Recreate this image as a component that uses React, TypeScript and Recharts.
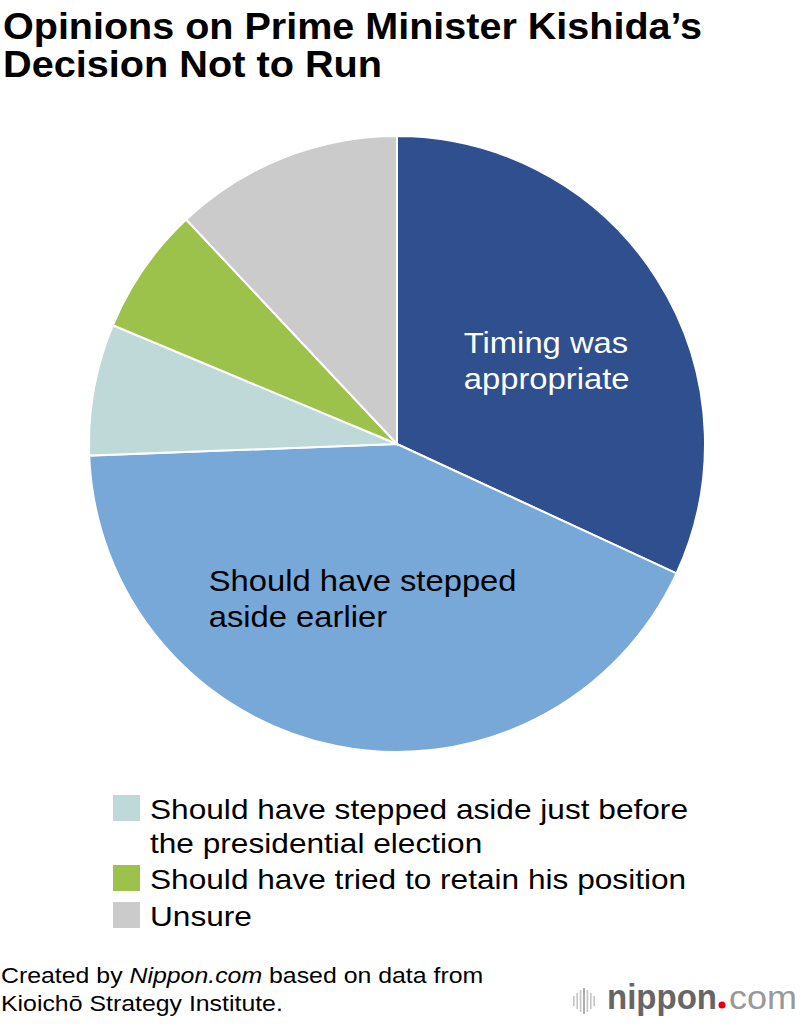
import React from "react";
import { Cell, Pie, PieChart } from "recharts";

// survey answers, clockwise from 12 o'clock
const answers = [
	"Timing was appropriate",
	"Should have stepped aside earlier",
	"Should have stepped aside just before the presidential election",
	"Should have tried to retain his position",
	"Unsure",
];
const shares = [31.9, 42.5, 6.9, 6.7, 12.0];

// text drawn inside the two big slices
const sliceLabels = [["Timing was", "appropriate"], ["Should have stepped", "aside earlier"]];

// legend rows for the small slices (answer index + wrapped lines)
const legendIndexes = [2, 3, 4];
const legendLines = [
	["Should have stepped aside just before", "the presidential election"],
	["Should have tried to retain his position"],
	["Unsure"],
];

const titleLines = ["Opinions on Prime Minister Kishida\u2019s", "Decision Not to Run"];
const sourceLines = ["based on data from", "Kioich\u014d Strategy Institute."];

const COLORS = ["#2f4f8e", "#77a8d8", "#bfd8d8", "#9cc24b", "#cbcbcb"];
const LABEL_COLORS = ["#ffffff", "#000000"];
const FONT = "'Liberation Sans', Arial, Helvetica, sans-serif";
// Liberation Sans runs narrower than the original Helvetica, widen it a bit
const WIDEN = 1.13;

const chartData = answers.map((name, i) => ({ name, value: shares[i] }));

const RAD = Math.PI / 180;

// label tweaks: distance from centre (share of radius) and shift of the text block
const labelLayout = [
	{ r: 0.55, dx: -76, dy: 0 },
	{ r: 0.55, dx: -155, dy: -19 },
];

function renderSliceLabel(props: any) {
	const { cx, cy, midAngle, outerRadius, index } = props;
	const lines = sliceLabels[index];
	if (!lines) return null;
	const lay = labelLayout[index];
	const x = cx + outerRadius * lay.r * Math.cos(-midAngle * RAD) + lay.dx;
	const y = cy + outerRadius * lay.r * Math.sin(-midAngle * RAD) + lay.dy;
	return (
		<g key={`lbl-${index}`} transform={`translate(${x},${y}) scale(${WIDEN},1)`}>
			<text fill={LABEL_COLORS[index]} fontFamily={FONT} fontSize={29} textAnchor="start">
				{lines.map((l, j) => (
					<tspan key={j} x={0} y={j * 36}>
						{l}
					</tspan>
				))}
			</text>
		</g>
	);
}

function Logo() {
	const bars = [10, 16, 22, 26, 22, 16, 10];
	return (
		<g>
			{bars.map((h, i) => (
				<rect
					key={i}
					x={573 + i * 3.4}
					y={1001 - h / 2}
					width={1.6}
					height={h}
					fill={i === 3 ? "#999" : "#c4c4c4"}
				/>
			))}
			<text x={607} y={1009} fontFamily={FONT} fontSize={35} fill="#666" fontWeight="bold" textLength={110} lengthAdjust="spacingAndGlyphs">
				nippon
			</text>
			<circle cx={722} cy={1005} r={3.5} fill="#e60012" />
			<text x={729} y={1009} fontFamily={FONT} fontSize={34} fill="#999" textLength={68} lengthAdjust="spacingAndGlyphs">
				com
			</text>
		</g>
	);
}

export default function App() {
	return (
		<div style={{ position: "absolute", left: 0, top: 0, width: 800, height: 1024, background: "#fff" }}>
			<PieChart width={800} height={1024} margin={{ top: 0, right: 0, bottom: 0, left: 0 }}>
				<Pie
					data={chartData}
					dataKey="value"
					nameKey="name"
					cx={397}
					cy={444}
					outerRadius={308}
					startAngle={90}
					endAngle={-270}
					stroke="#ffffff"
					strokeWidth={2}
					labelLine={false}
					label={renderSliceLabel}
					isAnimationActive={false}
				>
					{chartData.map((d, i) => (
						<Cell key={d.name} fill={COLORS[i]} />
					))}
				</Pie>
			</PieChart>
			<svg
				width={800}
				height={1024}
				style={{ position: "absolute", left: 0, top: 0, pointerEvents: "none" }}
			>
				<text x={3} y={39} fontFamily={FONT} fontWeight="bold" fontSize={37} fill="#000" textLength={699} lengthAdjust="spacingAndGlyphs">
					{titleLines[0]}
				</text>
				<text x={3} y={77} fontFamily={FONT} fontWeight="bold" fontSize={37} fill="#000" textLength={379} lengthAdjust="spacingAndGlyphs">
					{titleLines[1]}
				</text>

				{legendIndexes.map((idx, row) => {
					const top = [795, 865, 902][row];
					return (
						<g key={answers[idx]}>
							<rect x={113} y={top} width={27} height={26} fill={COLORS[idx]} />
							<g transform={`translate(150,${top + 24}) scale(${WIDEN},1)`}>
								<text fontFamily={FONT} fontSize={28} fill="#000">
									{legendLines[row].map((l, j) => (
										<tspan key={j} x={0} y={j * 34}>
											{l}
										</tspan>
									))}
								</text>
							</g>
						</g>
					);
				})}

				<g transform={`translate(1,0) scale(${WIDEN},1)`}>
					<text x={0} y={983} fontFamily={FONT} fontSize={22} fill="#000">
						Created by <tspan fontStyle="italic">Nippon.com</tspan> {sourceLines[0]}
					</text>
					<text x={0} y={1011} fontFamily={FONT} fontSize={22} fill="#000">
						{sourceLines[1]}
					</text>
				</g>
				<Logo />
			</svg>
		</div>
	);
}
